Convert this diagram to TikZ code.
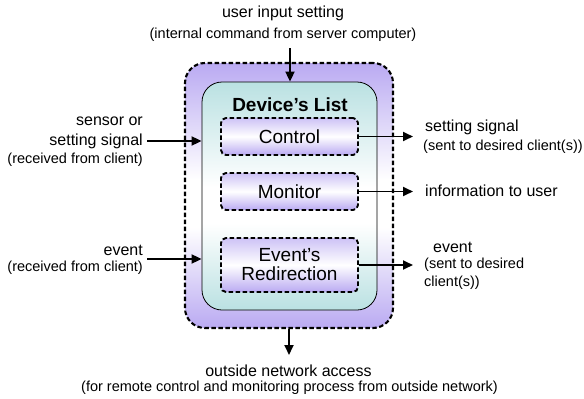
\documentclass[tikz,border=0pt]{standalone}
\usepackage{fontspec}
\setmainfont{Liberation Sans}
\usetikzlibrary{arrows.meta}

\definecolor{lavender}{RGB}{186,170,242}
\definecolor{lavlight}{RGB}{205,194,246}
\definecolor{tealc}{RGB}{186,225,226}

% vertical fades: colour at top and bottom, white band through the middle
\pgfdeclareverticalshading{outerfade}{100bp}{color(0bp)=(lavender); color(25bp)=(lavender);
  color(44bp)=(white); color(53bp)=(white); color(75bp)=(lavender); color(100bp)=(lavender)}
\pgfdeclareverticalshading{innerfade}{100bp}{color(0bp)=(tealc); color(25bp)=(tealc);
  color(44bp)=(white); color(52bp)=(white); color(75bp)=(tealc); color(100bp)=(tealc)}

\tikzset{
  bigtxt/.style={font=\fontsize{16}{19}\selectfont, inner sep=0pt},
  smalltxt/.style={font=\fontsize{14.5}{17}\selectfont, inner sep=0pt},
  flow/.style={line width=1.8pt, -{Triangle[length=10pt,width=9pt]}},
  dashbox/.style={draw, line width=2.1pt, dash pattern=on 4.5pt off 2.5pt, rounded corners=20pt},
  itembox/.style={draw, line width=1.9pt, dash pattern=on 4.5pt off 2.5pt, rounded corners=5pt,
    top color=lavlight, bottom color=lavender, middle color=white,
    minimum width=137pt, font=\fontsize{19}{22}\selectfont, align=center, inner sep=0pt},
}

\begin{document}
\begin{tikzpicture}[x=1pt, y=-1pt]
\useasboundingbox (0,0) rectangle (584,399);

% outer container and the device list inside it
\node[dashbox, shading=outerfade, shade,
      minimum width=208pt, minimum height=265pt] (outer) at (289,195.5) {};
\node[draw, line width=0.8pt, rounded corners=20pt, shading=innerfade, shade,
      minimum width=175pt, minimum height=228pt] (inner) at (289.5,196) {};
\node[font=\bfseries\fontsize{19}{22}\selectfont, inner sep=0pt] (title) at (290,105) {Device’s List};

\node[itembox, minimum height=37pt] (ctrl) at (289.5,136.5) {Control};
\node[itembox, minimum height=37pt] (mon) at (289.5,191.5) {Monitor};
\node[itembox, minimum height=54pt] (evt) at (289.5,265) {Event’s\\[-3pt]Redirection};

% top input
\node[bigtxt] (topA) at (283,13) {user input setting};
\node[smalltxt] (topB) at (283,35) {(internal command from server computer)};
\coordinate (topIn) at (290,48);
\draw[flow] (topIn) -- (topIn |- inner.north);

% left inputs
\node[bigtxt, anchor=east] (sA) at (143,121) {sensor or};
\node[bigtxt, anchor=east] (sB) at (143,141) {setting signal};
\node[smalltxt, anchor=east] (sC) at (143,160) {(received from client)};
\coordinate (sIn) at (147,141);
\draw[flow] (sIn) -- (sIn -| inner.west);

\node[bigtxt, anchor=east] (eA) at (143,250) {event};
\node[smalltxt, anchor=east] (eB) at (143,268) {(received from client)};
\coordinate (eIn) at (147,259);
\draw[flow] (eIn) -- (eIn -| inner.west);

% right outputs
\coordinate (ctrlOut) at (413,0);
\draw[flow] (ctrl.east) -- (ctrl.east -| ctrlOut);
\node[bigtxt, anchor=west] (rA) at (425,127) {setting signal};
\node[smalltxt, anchor=west] (rB) at (423,147) {(sent to desired client(s))};

\draw[flow] (mon.east) -- (mon.east -| ctrlOut);
\node[bigtxt, anchor=west] (rC) at (425,191) {information to user};

\draw[flow] (evt.east) -- (evt.east -| ctrlOut);
\node[bigtxt, anchor=west] (rD) at (433,247) {event};
\node[smalltxt, anchor=west] (rE) at (424,265) {(sent to desired};
\node[smalltxt, anchor=west] (rF) at (424,283) {client(s))};

% bottom output
\coordinate (botOut) at (289,355);
\draw[flow] (botOut |- outer.south) -- (botOut);
\node[bigtxt] (bA) at (288.5,371) {outside network access};
\node[smalltxt] (bB) at (289.5,388) {(for remote control and monitoring process from outside network)};
\end{tikzpicture}
\end{document}
